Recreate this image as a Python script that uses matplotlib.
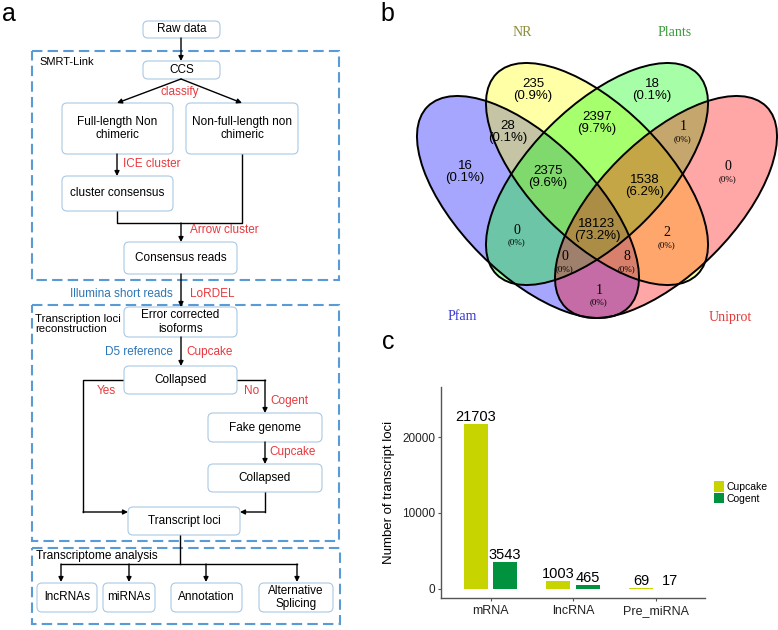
import matplotlib
matplotlib.use('Agg')
import matplotlib.pyplot as plt
from matplotlib.patches import FancyBboxPatch, Rectangle, Ellipse
import numpy as np

plt.rcParams['font.family'] = ['Liberation Sans', 'DejaVu Sans']

# ---- panel c data ----
categories = ['mRNA', 'lncRNA', 'Pre_miRNA']
cupcake = [21703, 1003, 69]
cogent = [3543, 465, 17]
series_names = ['Cupcake', 'Cogent']
series_colors = ['#c8d400', '#00923f']
yticks = [0, 10000, 20000]

# ---- panel b data ----
set_names = ['Pfam', 'NR', 'Plants', 'Uniprot']
set_colors = ['#0000ff', '#ffff00', '#00ff00', '#ff0000']
label_colors = ['#3838d0', '#8c8c3a', '#3a9a3a', '#e03a3a']
venn_counts = [235, 18, 28, 2397, 1, 16, 2375, 1538, 0, 0, 18123, 2, 0, 8, 1]
venn_pcts = ['0.9%', '0.1%', '0.1%', '9.7%', '0%', '0.1%', '9.6%', '6.2%', '0%',
             '0%', '73.2%', '0%', '0%', '0%', '0%']

RED = '#e8383d'
BLUE = '#2e75b6'

fig = plt.figure(figsize=(7.78, 6.30), dpi=100)
ax = fig.add_axes([0, 0, 1, 1])
ax.set_xlim(0, 778)
ax.set_ylim(630, 0)
ax.axis('off')


def box(cx, cy, w, h, text):
    ax.add_patch(FancyBboxPatch((cx - w / 2, cy - h / 2), w, h,
                                boxstyle='round,pad=0,rounding_size=5',
                                fc='white', ec='#a9c8e4', lw=0.8, zorder=2))
    ax.text(cx, cy, text, ha='center', va='center', fontsize=8.5,
            linespacing=1.15, zorder=3)


def arrow(x0, y0, x1, y1):
    ax.annotate('', xy=(x1, y1), xytext=(x0, y0),
                arrowprops=dict(arrowstyle='-|>', color='k', lw=1,
                                mutation_scale=7, shrinkA=0, shrinkB=0),
                zorder=4)


def line(xs, ys):
    ax.plot(xs, ys, color='k', lw=1, zorder=1)


def dashed(x0, y0, x1, y1):
    ax.add_patch(Rectangle((x0, y0), x1 - x0, y1 - y0, fill=False,
                           ec='#5b9bd5', lw=1.5, ls=(0, (5, 2.5)), zorder=1))


# ---------------- panel a : flowchart ----------------
dashed(32, 51, 339, 280)
dashed(32, 305, 339, 541)
dashed(32, 548, 340, 624)

box(181.5, 29.5, 77, 17, 'Raw data')
box(181.5, 70, 77, 18, 'CCS')
box(117.5, 128.5, 111, 51, 'Full-length Non\nchimeric')
box(242, 128.5, 112, 51, 'Non-full-length non\nchimeric')
box(117.5, 193.5, 111, 35, 'cluster consensus')
box(180.5, 258, 113, 32, 'Consensus reads')
box(180.5, 322, 113, 30, 'Error corrected\nisoforms')
box(180.5, 380, 113, 28, 'Collapsed')
box(265, 427.5, 114, 29, 'Fake genome')
box(265, 478, 114, 28, 'Collapsed')
box(184, 521, 112, 28, 'Transcript loci')
box(67, 597.5, 60, 29, 'lncRNAs')
box(129, 597.5, 52, 29, 'miRNAs')
box(206.5, 597.5, 71, 29, 'Annotation')
box(296, 597.5, 74, 29, 'Alternative\nSplicing')

arrow(181, 38, 181, 61)
arrow(181, 79, 117, 103)
arrow(181, 79, 242, 103)
arrow(117, 154, 117, 176)
line([117, 117, 242, 242], [211, 223, 223, 154])
arrow(181, 223, 181, 242)
arrow(181, 274, 181, 307)
arrow(181, 337, 181, 366)
line([124, 83, 83], [380, 380, 512])
arrow(83, 512, 128, 512)
line([237, 265], [380, 380])
arrow(265, 380, 265, 413)
arrow(265, 442, 265, 464)
line([265, 265], [492, 512])
arrow(265, 512, 240, 512)
line([180, 180], [535, 564])
line([61, 297], [564, 564])
for x in [61, 129, 206, 297]:
    arrow(x, 564, x, 582)

fs = 8.5
ax.text(180, 92, 'classify', color=RED, ha='center', va='center', fontsize=fs)
ax.text(123, 164, 'ICE cluster', color=RED, ha='left', va='center', fontsize=fs)
ax.text(190, 230, 'Arrow cluster', color=RED, ha='left', va='center', fontsize=fs)
ax.text(173, 294, 'Illumina short reads', color=BLUE, ha='right', va='center', fontsize=fs)
ax.text(190, 294, 'LoRDEL', color=RED, ha='left', va='center', fontsize=fs)
ax.text(39, 62, 'SMRT-Link', ha='left', va='center', fontsize=8)
ax.text(35, 324, 'Transcription loci\nreconstruction', ha='left', va='center',
        fontsize=8.2, linespacing=1.1)
ax.text(173, 352, 'D5 reference', color=BLUE, ha='right', va='center', fontsize=fs)
ax.text(186, 352, 'Cupcake', color=RED, ha='left', va='center', fontsize=fs)
ax.text(106, 391, 'Yes', color=RED, ha='center', va='center', fontsize=fs)
ax.text(252, 391, 'No', color=RED, ha='center', va='center', fontsize=fs)
ax.text(270, 401, 'Cogent', color=RED, ha='left', va='center', fontsize=fs)
ax.text(269, 452, 'Cupcake', color=RED, ha='left', va='center', fontsize=fs)
ax.text(36, 556, 'Transcriptome analysis', ha='left', va='center', fontsize=8.6)

# ---------------- panel b : venn ----------------
ell_centers = [(528, 207), (597, 174), (597, 174), (666, 207)]
ell_angles = [45, 45, -45, -45]
for (cx, cy), ang, col in zip(ell_centers, ell_angles, set_colors):
    ax.add_patch(Ellipse((cx, cy), 284, 134, angle=ang, fc=col, alpha=0.35,
                         ec='none', zorder=1))
for (cx, cy), ang in zip(ell_centers, ell_angles):
    ax.add_patch(Ellipse((cx, cy), 284, 134, angle=ang, fill=False,
                         ec='k', lw=1.4, zorder=2))

venn_pos = [(533, 90), (652, 90), (508, 132), (597, 123), (683, 133),
            (465, 172), (548, 177), (645, 186), (728, 173), (517, 236),
            (597, 230), (667, 239), (565, 263), (627, 263), (599, 296)]
for (x, y), n, p in zip(venn_pos, venn_counts, venn_pcts):
    if n >= 10:
        ax.text(x, y, '%d\n(%s)' % (n, p), ha='center', va='center',
                fontsize=9.5, linespacing=1.1, zorder=3)
    else:
        ax.text(x, y - 6, str(n), ha='center', va='center', fontsize=10,
                family='Liberation Serif', zorder=3)
        ax.text(x, y + 6, '(%s)' % p, ha='center', va='center', fontsize=6.5,
                family='Liberation Serif', zorder=3)

label_pos = [(462, 316), (522, 33), (675, 33), (730, 318)]
for (x, y), name, col in zip(label_pos, set_names, label_colors):
    ax.text(x, y, name, color=col, ha='center', va='center', fontsize=10,
            family='Liberation Serif')

# panel letters
ax.text(2, 14, 'a', fontsize=18, ha='left', va='center')
ax.text(380, 14, 'b', fontsize=18, ha='left', va='center')
ax.text(382, 342, 'c', fontsize=18, ha='left', va='center')

# ---------------- panel c : bar chart ----------------
bx = fig.add_axes([441 / 778, (630 - 598) / 630, (705 - 441) / 778, (598 - 387) / 630])
pos = np.arange(1, len(categories) + 1)
w = 0.29
off = 0.177
for vals, sign, name, col in zip([cupcake, cogent], [-1, 1], series_names, series_colors):
    bars = bx.bar(pos + sign * off, vals, width=w, color=col, label=name)
    for b, v in zip(bars, vals):
        bx.text(b.get_x() + b.get_width() / 2, v + 50, str(v), ha='center',
                va='bottom', fontsize=10.5)
bx.set_xlim(0.4, 3.6)
bx.set_ylim(-1200, 26600)
bx.set_xticks(pos)
bx.set_xticklabels(categories, fontsize=9)
bx.set_yticks(yticks)
bx.set_yticklabels([str(t) for t in yticks], fontsize=8.5)
bx.set_ylabel('Number of transcript loci', fontsize=9.5, labelpad=5)
for s in ['top', 'right']:
    bx.spines[s].set_visible(False)
for s in ['left', 'bottom']:
    bx.spines[s].set_color('#555555')
    bx.spines[s].set_linewidth(1)
bx.tick_params(colors='#555555', labelcolor='#222222', length=2.5)
bx.tick_params(axis='y', pad=1.5)
bx.tick_params(axis='x', pad=2.5)
bx.legend(loc='center left', bbox_to_anchor=(1.02, 0.5), frameon=False,
          fontsize=7.5, handlelength=0.9, handleheight=1.2, handletextpad=0.3,
          labelspacing=0.05, borderaxespad=0)

fig.savefig('out.png', dpi=100)
